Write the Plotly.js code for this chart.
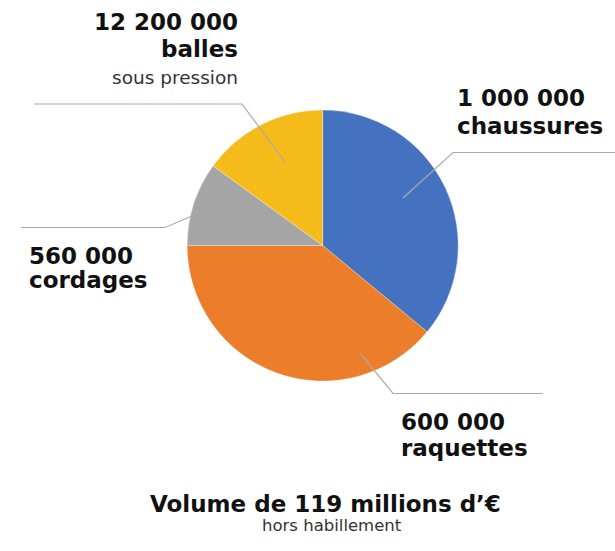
<!DOCTYPE html>
<html>
<head>
<meta charset="utf-8">
<script src="https://cdn.plot.ly/plotly-3.0.1.min.js"></script>
<style>
html,body{margin:0;padding:0;background:#fff;}
#chart{width:615px;height:551px;}
</style>
</head>
<body>
<div id="chart"></div>
<script>
// Data (share of the 119 M€ volume)
const categories = ["chaussures", "raquettes", "cordages", "balles"];
const shares = [36, 39, 10, 15];
const units = ["1 000 000", "600 000", "560 000", "12 200 000"];
const colors = ["#4571c1", "#eb7d2b", "#a5a5a5", "#f5bb1a"];

const W = 615, H = 551;
const px = x => x / W;
const py = y => 1 - y / H;

const FONT = "DejaVu Sans, sans-serif";
const BIG = 23, NOTE = 18.5, SUB = 16.5;

function line(text, x, baseline, size, anchor, bold) {
  return {
    xref: "paper", yref: "paper",
    x: px(x), y: py(baseline - 0.346 * size),
    xanchor: anchor, yanchor: "middle",
    text: bold ? "<b>" + text + "</b>" : text,
    showarrow: false,
    borderpad: 0,
    font: {family: FONT, size: size, color: bold ? "#111111" : "#333333"}
  };
}

const annotations = [
  line(units[3], 239, 29.5, BIG, "right", true),
  line(categories[3], 239, 57, BIG, "right", true),
  line("sous pression", 239, 84, NOTE, "right", false),

  line(units[0], 456, 106, BIG, "left", true),
  line(categories[0], 456, 133.5, BIG, "left", true),

  line(units[2], 28, 263.5, BIG, "left", true),
  line(categories[2], 28, 288, BIG, "left", true),

  line(units[1], 400, 430, BIG, "left", true),
  line(categories[1], 400, 456, BIG, "left", true),

  line("<b>Volume de 119 millions d’€</b>", 325, 511.5, BIG, "center", false),
  line("hors habillement", 332, 531.5, SUB, "center", false)
];
annotations[9].font.color = "#111111";

function leader(pts) {
  let d = "";
  pts.forEach((p, i) => { d += (i ? " L " : "M ") + px(p[0]) + "," + py(p[1]); });
  return {type: "path", xref: "paper", yref: "paper", path: d,
          line: {color: "#aaaaaa", width: 1.2}};
}

const shapes = [
  leader([[285, 162], [242, 104], [34, 104]]),
  leader([[403, 198], [453, 152.5], [615, 152.5]]),
  leader([[213, 207], [165, 227.5], [21, 227.5]]),
  leader([[360, 353], [393, 393.5], [543, 393.5]])
];

const cx = 322.7, cy = 245.5, R = 135.5;

const data = [{
  type: "pie",
  labels: categories,
  values: shares,
  sort: false,
  direction: "clockwise",
  rotation: 0,
  marker: {colors: colors, line: {color: "rgba(255,255,255,0.35)", width: 0.8}},
  textinfo: "none",
  hoverinfo: "label+value",
  showlegend: false,
  domain: {x: [px(cx - R), px(cx + R)], y: [py(cy + R), py(cy - R)]}
}];

const layout = {
  width: W, height: H,
  margin: {l: 0, r: 0, t: 0, b: 0},
  paper_bgcolor: "#ffffff",
  plot_bgcolor: "#ffffff",
  showlegend: false,
  annotations: annotations,
  shapes: shapes
};

Plotly.newPlot("chart", data, layout, {displayModeBar: false, staticPlot: true});
</script>
</body>
</html>
